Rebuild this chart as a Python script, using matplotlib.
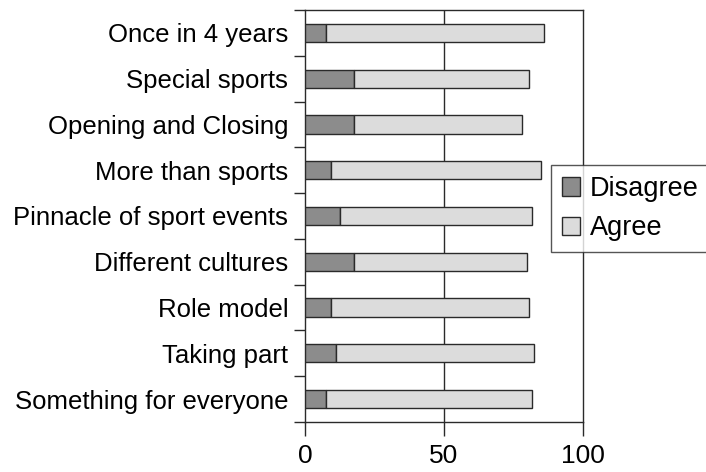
import matplotlib
matplotlib.use("Agg")
import matplotlib.pyplot as plt
import numpy as np

# categories bottom -> top
categories = ["Something for everyone", "Taking part", "Role model",
              "Different cultures", "Pinnacle of sport events",
              "More than sports", "Opening and Closing", "Special sports",
              "Once in 4 years"]
disagree = [7.5, 11.0, 9.4, 17.7, 12.7, 9.4, 17.7, 17.7, 7.5]
agree = [74.0, 71.5, 71.2, 62.2, 68.8, 75.5, 60.5, 62.9, 78.3]
xticks = [0, 50, 100]

plt.rcParams['font.family'] = ['Liberation Sans', 'DejaVu Sans']

fig = plt.figure(figsize=(7.06, 4.72), dpi=100)
ax = fig.add_axes([305/706, 1-422/472, 278/706, 412/472])

y = np.arange(len(categories))
edge = '#2a2a2a'
ax.barh(y, disagree, height=0.4, color='#8c8c8c', edgecolor=edge,
        linewidth=1.0, label='Disagree', zorder=3)
ax.barh(y, agree, left=disagree, height=0.4, color='#dcdcdc',
        edgecolor=edge, linewidth=1.0, label='Agree', zorder=3)

ax.set_xlim(0, 100)
ax.set_ylim(-0.5, len(categories) - 0.5)

# gridline at 50
ax.axvline(50, color=edge, lw=1.0, zorder=1)

ax.set_xticks(xticks)
ax.set_xticklabels([str(t) for t in xticks], fontsize=19)
ax.tick_params(axis='x', direction='out', length=10, width=1.0,
               color=edge, pad=6)

# y: ticks at boundaries, labels at centers
ax.set_yticks(np.arange(len(categories) + 1) - 0.5)
ax.set_yticklabels([])
ax.set_yticks(y, minor=True)
ax.set_yticklabels(categories, minor=True, fontsize=18.5)
ax.tick_params(axis='y', which='major', direction='out', length=8,
               width=1.0, color=edge)
ax.tick_params(axis='y', which='minor', length=0, pad=12)

for s in ax.spines.values():
    s.set_color(edge)
    s.set_linewidth(1.0)

leg = ax.legend(loc='upper left', bbox_to_anchor=(551/706, 1-165/472),
                bbox_transform=fig.transFigure, fontsize=19.5,
                frameon=True, fancybox=False, edgecolor=edge,
                handlelength=0.68, handleheight=0.68, handletextpad=0.35,
                borderpad=0.4, labelspacing=0.5, borderaxespad=0)
leg.get_frame().set_linewidth(1.0)

fig.savefig('out.png', dpi=100)
